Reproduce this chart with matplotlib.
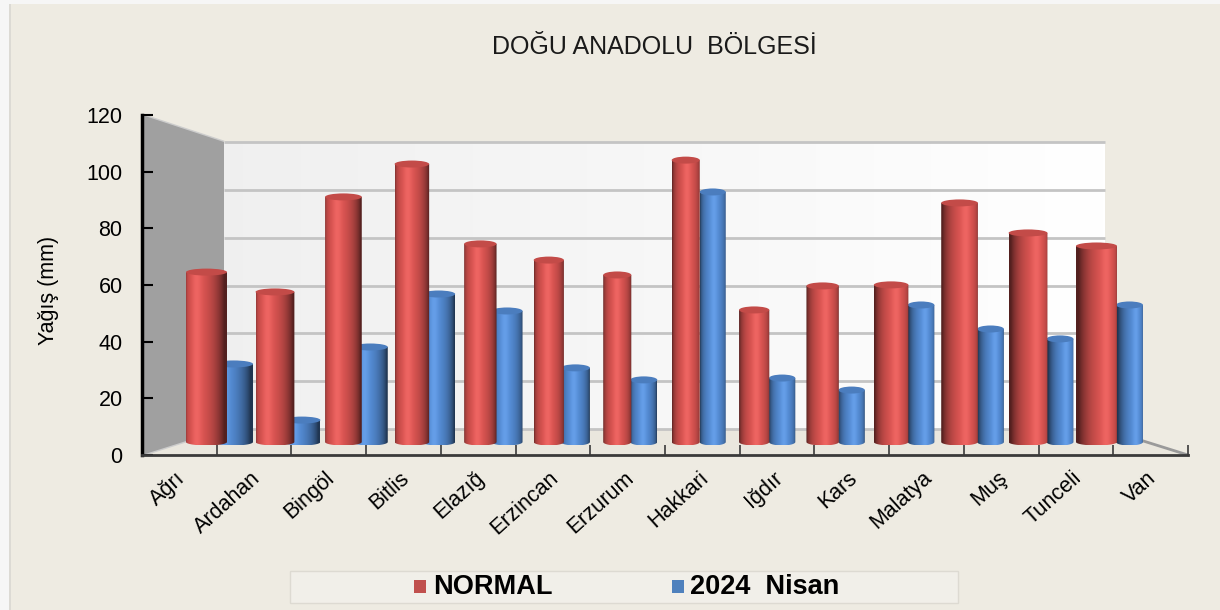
import numpy as np
import matplotlib
matplotlib.use('Agg')
import matplotlib.pyplot as plt
import matplotlib.transforms as mtrans
from matplotlib.patches import Polygon, Rectangle, Ellipse, PathPatch
from matplotlib.path import Path

plt.rcParams['font.family'] = ['Liberation Sans', 'DejaVu Sans']

# ---------------- data ----------------
categories = ['Ağrı', 'Ardahan', 'Bingöl', 'Bitlis', 'Elazığ', 'Erzincan', 'Erzurum',
              'Hakkari', 'Iğdır', 'Kars', 'Malatya', 'Muş', 'Tunceli', 'Van']
normal = [65.1, 57.5, 93.9, 106.5, 75.9, 69.7, 64.0, 108.0, 50.6, 59.8, 60.2, 91.6, 80.1, 75.1]
nisan_2024 = [29.9, 8.4, 36.4, 56.7, 50.2, 28.4, 23.8, 95.8, 24.5, 19.9, 52.5, 43.3, 39.5, 52.5]
yticks = [0, 20, 40, 60, 80, 100, 120]
title = 'DOĞU ANADOLU  BÖLGESİ'
ylabel = 'Yağış (mm)'
series_names = ['NORMAL', '2024  Nisan']

# ---------------- style / geometry ----------------
W, H = 1220, 610
BG = '#EEEBE2'
RED = (0.78, 0.30, 0.29)
BLUE = (0.30, 0.50, 0.76)
RED_HEX = '#C0504D'
BLUE_HEX = '#4F81BD'

FX0, FX1, FY0, FY1 = 142, 1188, 455, 115      # front plane (0 and 120)
BX0, BX1, BY0, BY1 = 224, 1105, 429, 142      # back wall
BASE, SC = 442, 2.61                          # bar plane baseline px, px per unit
C0, PXU = 219.5, 68.46                        # first pair centre px, px per category
YMAX = 120

fig = plt.figure(figsize=(W / 100, H / 100), dpi=100, facecolor=BG)

# background decoration axes in pixel coordinates
bg = fig.add_axes([0, 0, 1, 1], zorder=0)
bg.set_xlim(0, W)
bg.set_ylim(H, 0)
bg.axis('off')

bg.add_patch(Rectangle((0, 0), 9, H, facecolor='#F6F6F6', edgecolor='none'))
bg.add_patch(Rectangle((9, 0), 2, H, facecolor='#DCDAD4', edgecolor='none'))
bg.add_patch(Rectangle((0, 0), W, 4, facecolor='#F6F6F6', edgecolor='none'))

# side wall
bg.add_patch(Polygon([(FX0, FY1), (BX0, BY1), (BX0, BY0), (FX0, FY0)],
                     closed=True, facecolor='#A0A0A0', edgecolor='none'))
# back wall gradient
grad = np.linspace(0, 1, 200)
wall = np.zeros((2, 200, 3))
for k in range(3):
    wall[:, :, k] = 0.94 + 0.06 * grad
bg.imshow(wall, extent=[BX0, BX1, BY0, BY1], aspect='auto', interpolation='bilinear', zorder=0.5)
# floor
bg.add_patch(Polygon([(FX0, FY0), (BX0, BY0), (BX1, BY0), (FX1, FY0)],
                     closed=True, facecolor='#EAE7DE', edgecolor='none', zorder=0.6))
bg.plot([BX1, FX1], [BY0, FY0], color='#9A9A9A', lw=2, zorder=0.7)
# grid lines on walls
for v in yticks:
    yb = BY0 - v * (BY0 - BY1) / YMAX
    yf = FY0 - v * (FY0 - FY1) / YMAX
    bg.plot([BX0, BX1], [yb, yb], color='#C4C4C4', lw=2, zorder=0.8, solid_capstyle='butt')
    bg.plot([FX0, BX0], [yf, yb], color='#CDCDCD', lw=2, zorder=0.8, solid_capstyle='butt')
bg.set_xlim(0, W)
bg.set_ylim(H, 0)

# title
bg.text(654, 47, title, ha='center', va='center', fontsize=18, color='#1A1A1A')

# legend
bg.add_patch(Rectangle((290, 571), 668, 32, facecolor='#F1EFE9', edgecolor='#DDDAD2', lw=1))
bg.add_patch(Rectangle((414, 580), 12, 13, facecolor=RED_HEX, edgecolor='none'))
bg.text(433, 587, series_names[0], ha='left', va='center', fontsize=19.5, fontweight='bold', color='black')
bg.add_patch(Rectangle((672, 580), 12, 13, facecolor=BLUE_HEX, edgecolor='none'))
bg.text(690, 587, series_names[1], ha='left', va='center', fontsize=19.5, fontweight='bold', color='black')

# front axes (tick labels and axis lines)
ax = fig.add_axes([FX0 / W, 1 - FY0 / H, (FX1 - FX0) / W, (FY0 - FY1) / H], zorder=1)
ax.patch.set_alpha(0)
ax.set_xlim(0, len(categories))
ax.set_ylim(0, YMAX)
ax.spines['top'].set_visible(False)
ax.spines['right'].set_visible(False)
ax.spines['left'].set_linewidth(2.5)
ax.spines['left'].set_color('black')
ax.spines['bottom'].set_linewidth(2)
ax.spines['bottom'].set_color('#3A3A3A')
ax.set_yticks(yticks)
ax.set_yticklabels([str(v) for v in yticks], fontsize=15.5)
ax.tick_params(axis='y', direction='in', length=8, width=1.5, pad=14, color='black')
xc = np.arange(len(categories)) + 0.5
ax.set_xticks(xc)
ax.set_xticklabels(categories, fontsize=15.5, rotation=42, ha='right', rotation_mode='anchor')
ax.tick_params(axis='x', which='major', length=0, pad=9)
shift = mtrans.ScaledTranslation(-4 / 100, 0, fig.dpi_scale_trans)
for lab in ax.get_xticklabels():
    lab.set_transform(lab.get_transform() + shift)
ax.set_xticks(np.arange(1, len(categories) + 1), minor=True)
ax.tick_params(axis='x', which='minor', direction='in', length=7, width=1.2, color='#3A3A3A')
ax.set_ylabel(ylabel, fontsize=15.5)
ax.yaxis.set_label_coords((59 - FX0) / (FX1 - FX0), (FY0 - 290) / (FY0 - FY1))

# bar plane axes
YLO = -5
bx = fig.add_axes([FX0 / W, 1 - (BASE - YLO * SC) / H, (FX1 - FX0) / W, (YMAX - YLO) * SC / H], zorder=2)
bx.axis('off')
xl = ((FX0 - C0) / PXU, (FX1 - C0) / PXU)
EH = 3.5 / SC


def shade(base, t, n=96, amb=0.42):
    u = np.linspace(0, 1, n)
    phi = np.arcsin(np.clip(2 * u - 1, -1, 1)) - 0.5 * t
    d = np.clip(np.cos(phi), 0, None)
    inten = amb + 0.70 * d
    spec = 0.06 * d ** 30
    rgb = np.clip(np.array(base)[None, :] * inten[:, None] + spec[:, None], 0, 1)
    return rgb[None, :, :]


def cylinder(x0, x1, v, base, t, z):
    hw = (x1 - x0) / 2
    xm = (x0 + x1) / 2
    th = np.linspace(np.pi, 2 * np.pi, 40)
    pts = [(x0, v)] + [(xm + hw * np.cos(a), EH * np.sin(a)) for a in th] + [(x1, v), (x0, v)]
    path = Path(pts, closed=True)
    patch = PathPatch(path, transform=bx.transData, facecolor='none', edgecolor='none')
    rgb = shade(base, t)
    im = bx.imshow(rgb, extent=[x0, x1, -EH, v], aspect='auto', interpolation='bilinear', zorder=z)
    im.set_clip_path(patch)
    cap = np.clip(np.array(base) * 0.98, 0, 1)
    bx.add_patch(Ellipse((xm, v), x1 - x0, 2 * EH, facecolor=cap, edgecolor='none', zorder=z + 0.1))


n = len(categories)
for i in range(n):
    t = (i - (n - 1) / 2) / ((n - 1) / 2)
    h = 26.5 + 7 * abs(t)
    r0, r1 = -h, 0.5 + 7 * abs(t)
    b0, b1 = 0.5 + 6 * t, h
    cylinder(i + b0 / PXU, i + b1 / PXU, nisan_2024[i], BLUE, t, 2 + i * 0.01)
    cylinder(i + r0 / PXU, i + r1 / PXU, normal[i], RED, t, 3 + i * 0.01)

bx.set_xlim(*xl)
bx.set_ylim(YLO, YMAX)

fig.savefig('out.png', dpi=100, facecolor=BG)
